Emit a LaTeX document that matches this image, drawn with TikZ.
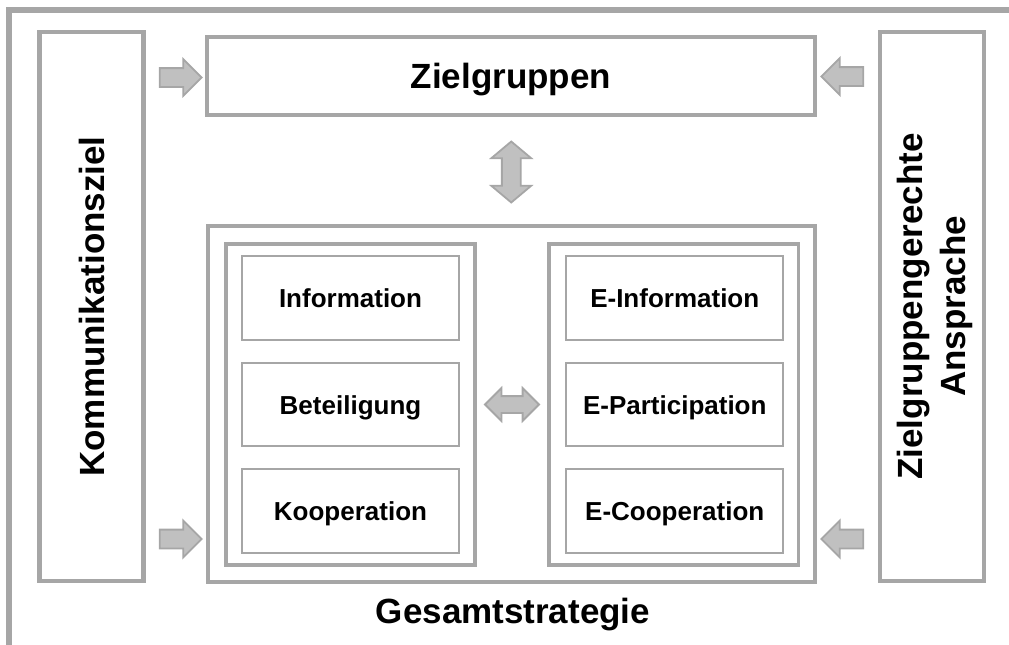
\documentclass[tikz,border=0pt]{standalone}
\usepackage{fontspec}
\setmainfont{Liberation Sans}
\usetikzlibrary{shapes.arrows}
\usetikzlibrary{calc}

\definecolor{rahmen}{HTML}{A6A6A6}
\definecolor{pfeil}{HTML}{C0C0C0}

\begin{document}
\begin{tikzpicture}[x=1pt,y=-1pt,
  titel/.style={inner sep=0pt,align=center,font=\bfseries\fontsize{35}{43}\selectfont},
  box/.style={titel,draw=rahmen,line width=4.5pt,text height=25pt,text depth=0pt},
  innen/.style={draw=rahmen,line width=3.5pt,inner sep=0pt,minimum height=321pt},
  feld/.style={draw=rahmen,line width=2.3pt,inner sep=0pt,minimum width=217pt,minimum height=83.5pt,
    text height=19pt,text depth=0pt,font=\bfseries\fontsize{26}{30}\selectfont},
  pfeilbox/.style={draw=rahmen,fill=pfeil,line width=1.8pt,inner sep=0pt,minimum width=1pt},
  pfeilr/.style={pfeilbox,single arrow,minimum height=42pt,inner ysep=8.5pt,single arrow head extend=9pt},
  pfeill/.style={pfeilr,shape border rotate=180}]
\useasboundingbox (0,0) rectangle (1009,645);
\draw [rahmen,line width=6pt] (9,645) -- (9,10) -- (1009,10);

\node [box,minimum width=104pt,minimum height=549pt] (komm) at (91.5,306.5) {};
\node [titel,rotate=90] (kommtext) at (komm.center) {Kommunikationsziel};
\node [box,minimum width=104pt,minimum height=549pt] (anspr) at (932,306.5) {};
\node [titel,rotate=90] (ansprtext) at ($(anspr.center)+(3,0)$) {Zielgruppengerechte\\Ansprache};
\node [box,minimum width=608pt,minimum height=78pt] (ziel) at (511,76) {Zielgruppen};
\node [box,minimum width=607pt,minimum height=356pt] (gesamt) at (511.5,404) {};
\node [titel,anchor=base] (gesamttext) at ($(gesamt.south)+(1.5,39)$) {Gesamtstrategie};

\node [innen,minimum width=249pt] (links) at (350.5,404.5) {};
\node [innen,minimum width=249.5pt] (rechts) at (673.75,404.5) {};
\foreach \a/\b/\y in {Information/E-Information/298,Beteiligung/E-Participation/404.5,Kooperation/E-Cooperation/511} {
  \node [feld] (l\y) at (350.5,\y) {\a};
  \node [feld] (r\y) at (674.75,\y) {\b};
}

\node [pfeilr] (p1) at (176,77.5) {};
\node [pfeilr] (p2) at (176,539) {};
\node [pfeill] (p3) at (847,76.5) {};
\node [pfeill] (p4) at (847,539) {};
\node [pfeilbox,double arrow,shape border rotate=90,minimum height=61pt,inner sep=8.5pt,
  double arrow head extend=10.5pt,double arrow tip angle=100] (p5) at ($(ziel.south)!0.5!(gesamt.north)+(0,1.5)$) {};
\node [pfeilbox,double arrow,minimum height=54pt,inner ysep=7.5pt,double arrow head extend=8pt] (p6) at ($(links.east)!0.5!(rechts.west)$) {};
\end{tikzpicture}
\end{document}
